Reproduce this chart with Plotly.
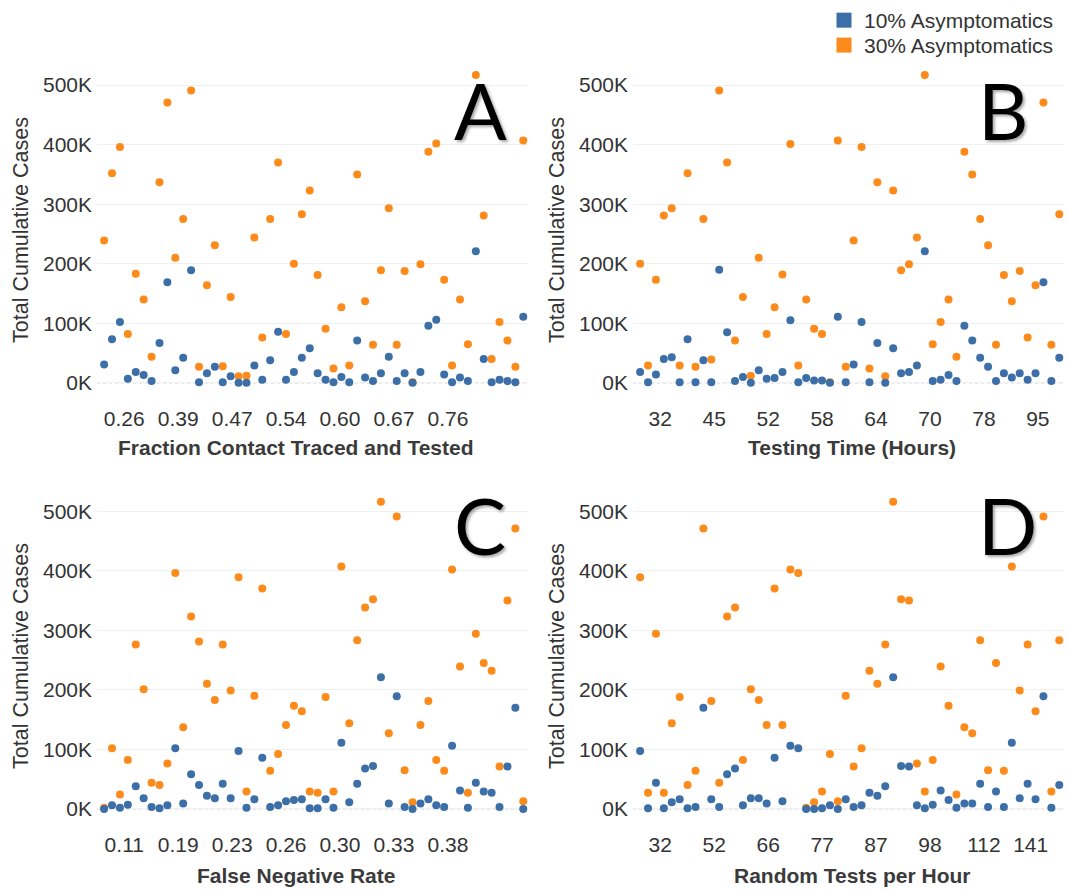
import plotly.graph_objects as go

W, H = 1067, 892

# ---------------- data (Total cumulative cases, in thousands) ----------------
series_names = ["10% Asymptomatics", "30% Asymptomatics"]
panel_letters = ["A", "B", "C", "D"]
x_titles = ["Fraction Contact Traced and Tested", "Testing Time (Hours)",
            "False Negative Rate", "Random Tests per Hour"]

# Panel A: Fraction Contact Traced and Tested
a_ticklabels = ["0.26", "0.39", "0.47", "0.54", "0.60", "0.67", "0.76"]
a_asym10 = [31, 73, 102, 7, 18, 13, 3, 67, 169, 21, 42, 189, 1, 16, 27, 1, 11, 0, 0, 29,
            5, 38, 86, 5, 18, 42, 58, 16, 5, 1, 10, 1, 71, 9, 3, 16, 44, 3, 16, 0,
            18, 96, 106, 14, 1, 9, 3, 221, 40, 1, 5, 3, 1, 111]
a_asym30 = [239, 352, 396, 82, 183, 140, 44, 337, 471, 210, 275, 491, 27, 164, 231, 28, 144, 11, 12, 244,
            76, 275, 370, 82, 200, 283, 323, 181, 91, 24, 127, 29, 350, 137, 64, 189, 293, 64, 188, 1,
            199, 388, 402, 173, 29, 140, 65, 517, 281, 40, 102, 71, 27, 407]

# Panel B: Testing Time (Hours)
b_ticklabels = ["32", "45", "52", "58", "64", "70", "78", "95"]
b_asym10 = [18, 1, 14, 40, 43, 1, 73, 1, 38, 1, 190, 85, 3, 10, 0, 21, 7, 8, 18, 105,
            1, 8, 4, 4, 0, 111, 1, 31, 102, 1, 67, 0, 58, 16, 18, 29, 221, 3, 5, 13,
            3, 96, 71, 42, 27, 3, 16, 9, 16, 5, 16, 169, 3, 42]
b_asym30 = [200, 29, 173, 281, 293, 29, 352, 27, 275, 39, 491, 370, 71, 144, 12, 210, 82, 127, 182, 401,
            29, 140, 91, 82, 1, 407, 27, 239, 396, 24, 337, 11, 323, 189, 199, 244, 517, 65, 102, 140,
            44, 388, 350, 275, 231, 64, 181, 137, 188, 76, 164, 471, 64, 283]

# Panel C: False Negative Rate
c_ticklabels = ["0.11", "0.19", "0.23", "0.26", "0.30", "0.33", "0.38"]
c_asym10 = [0, 6, 2, 7, 38, 18, 3, 1, 6, 102, 9, 58, 40, 22, 18, 42, 18, 97, 2, 16,
            86, 3, 6, 13, 15, 16, 1, 1, 16, 2, 111, 11, 42, 68, 72, 221, 9, 189, 3, 0,
            9, 16, 6, 3, 106, 31, 2, 44, 29, 27, 3, 71, 170, 0]
c_asym30 = [2, 102, 24, 82, 276, 201, 44, 40, 76, 396, 137, 323, 281, 210, 183, 276, 199, 389, 29, 190,
            370, 64, 92, 141, 173, 164, 29, 27, 188, 29, 407, 144, 283, 338, 352, 516, 127, 491, 65, 11,
            141, 181, 82, 64, 402, 239, 27, 294, 245, 232, 71, 350, 471, 13]

# Panel D: Random Tests per Hour
d_ticklabels = ["32", "52", "66", "77", "87", "98", "112", "141"]
d_asym10 = [97, 1, 44, 1, 11, 16, 1, 3, 170, 16, 3, 58, 68, 6, 18, 18, 9, 86, 13, 106,
            102, 0, 0, 1, 6, 0, 16, 3, 6, 27, 22, 38, 221, 72, 71, 6, 1, 7, 31, 15,
            2, 9, 9, 42, 3, 29, 3, 111, 18, 42, 16, 189, 2, 40]
d_asym30 = [389, 27, 294, 27, 144, 188, 40, 64, 471, 181, 44, 323, 338, 82, 201, 183, 141, 370, 141, 402,
            396, 2, 11, 29, 92, 13, 190, 71, 102, 232, 210, 276, 516, 352, 350, 76, 29, 82, 239, 173,
            24, 137, 127, 283, 65, 245, 64, 407, 199, 276, 164, 491, 29, 283]

y_ticks = [0, 100, 200, 300, 400, 500]
y_ticklabels = ["0K", "100K", "200K", "300K", "400K", "500K"]

# ---------------- styling ----------------
BLUE = "#3c6fa7"
ORANGE = "#fd8b1c"
FONT = "Liberation Sans"
TXT = "#333333"

panels = [
    (a_asym10, a_asym30, a_ticklabels),
    (b_asym10, b_asym30, b_ticklabels),
    (c_asym10, c_asym30, c_ticklabels),
    (d_asym10, d_asym30, d_ticklabels),
]

# pixel boxes of the four plot areas: (left, right, top, bottom)
boxes = [(97, 528, 62, 395), (633, 1064, 62, 395),
         (97, 528, 489, 822), (633, 1064, 489, 822)]

fig = go.Figure()

# legend-only entries (square swatches), one legend box per row
for name, col, lg in zip(series_names, [BLUE, ORANGE], ["legend", "legend2"]):
    fig.add_trace(go.Scatter(x=[None], y=[None], mode="markers", name=name,
                             legendgroup=name, showlegend=True, legend=lg,
                             marker=dict(symbol="square", size=15, color=col),
                             xaxis="x", yaxis="y"))

layout_axes = {}
annotations = []
shapes = []
for i, (v10, v30, tlabels) in enumerate(panels):
    n = i + 1
    xa = "x" if n == 1 else f"x{n}"
    ya = "y" if n == 1 else f"y{n}"
    idx = list(range(len(v10)))
    # orange first so blue sits on top
    fig.add_trace(go.Scatter(x=idx, y=v30, mode="markers", name=series_names[1],
                             legendgroup=series_names[1], showlegend=False,
                             marker=dict(size=8, color=ORANGE), xaxis=xa, yaxis=ya))
    fig.add_trace(go.Scatter(x=idx, y=v10, mode="markers", name=series_names[0],
                             legendgroup=series_names[0], showlegend=False,
                             marker=dict(size=8, color=BLUE), xaxis=xa, yaxis=ya))
    l, r, t, b = boxes[i]
    tick_pos = [2.55 + 6.82 * k for k in range(len(tlabels))]
    if i == 3:
        tick_pos[-1] -= 0.9  # last label kept inside the pane
    xkey = "xaxis" if n == 1 else f"xaxis{n}"
    ykey = "yaxis" if n == 1 else f"yaxis{n}"
    layout_axes[xkey] = dict(domain=[l / W, r / W], anchor=ya, range=[-0.9, 53.6],
                             showgrid=False, zeroline=False, showline=False, ticks="",
                             tickvals=tick_pos, ticktext=tlabels, ticklabelstandoff=8,
                             tickfont=dict(family=FONT, size=21, color=TXT))
    layout_axes[ykey] = dict(domain=[1 - b / H, 1 - t / H], anchor=xa, range=[-22.3, 535.7],
                             tickmode="array", tickvals=y_ticks, ticktext=y_ticklabels,
                             showgrid=True, gridcolor="#f0f0f0", gridwidth=1, zeroline=False,
                             showline=False, ticks="", ticklabelstandoff=4,
                             tickfont=dict(family=FONT, size=21, color=TXT),
                             title=dict(text="Total Cumulative Cases", standoff=8,
                                        font=dict(family=FONT, size=21.5, color=TXT)))
    shapes.append(dict(type="line", xref=f"{xa} domain", x0=0, x1=1, yref=ya, y0=0, y1=0,
                       line=dict(color="#bdbdbd", width=1, dash="dot"), layer="below"))
    # x-axis title
    annotations.append(dict(text=f"<b>{x_titles[i]}</b>", xref="paper", yref="paper",
                            x=(296 if i % 2 == 0 else 852) / W,
                            y=1 - ((447 if i < 2 else 875)) / H,
                            xanchor="center", yanchor="middle", showarrow=False,
                            font=dict(family=FONT, size=21, color="#3a3a3a")))
    # panel letter
    annotations.append(dict(text=panel_letters[i], xref="paper", yref="paper",
                            x=(452 if i % 2 == 0 else 976) / W,
                            y=1 - ((108 if i < 2 else 524)) / H,
                            xanchor="left", yanchor="middle", showarrow=False,
                            font=dict(family="Lato", size=78, color="black",
                                      shadow="2px 2px 3px rgba(0,0,0,0.35)")))

legend_style = dict(xanchor="left", yanchor="top",
                    font=dict(family=FONT, size=21, color=TXT),
                    bgcolor="rgba(0,0,0,0)", itemsizing="trace")

fig.update_layout(
    width=W, height=H, margin=dict(l=0, r=0, t=0, b=0),
    paper_bgcolor="white", plot_bgcolor="white",
    font=dict(family=FONT, color=TXT),
    showlegend=True,
    legend=dict(x=824 / W, y=1 + 2 / H, **legend_style),
    legend2=dict(x=824 / W, y=1 - 23 / H, **legend_style),
    annotations=annotations, shapes=shapes,
    **layout_axes,
)

fig.write_html("out.html", config={"displayModeBar": False},
               post_script="document.body.style.margin='0px';")
